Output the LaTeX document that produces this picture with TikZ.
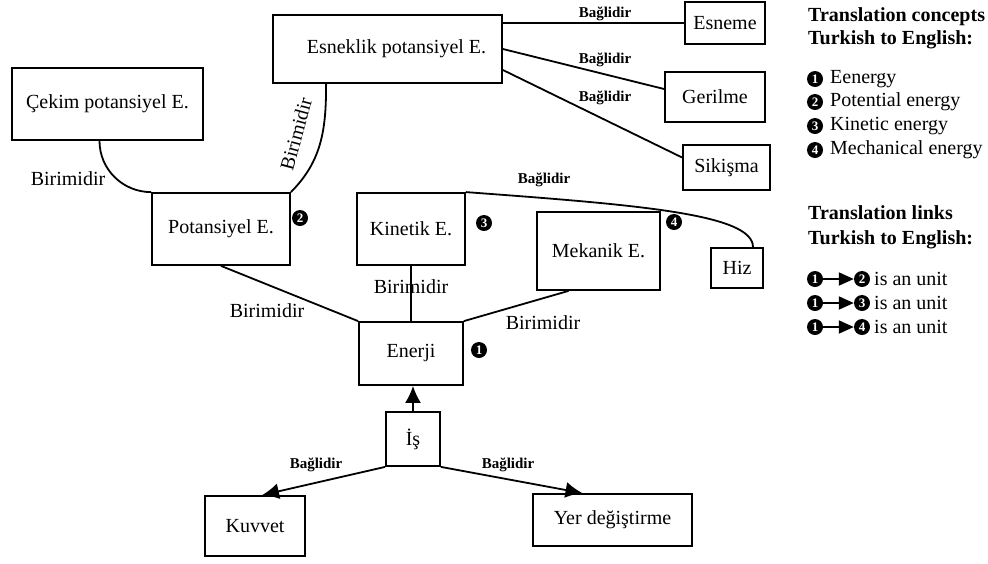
\documentclass[tikz,border=0pt]{standalone}
\usepackage{fontspec}
\setmainfont{Liberation Serif}
\usetikzlibrary{arrows.meta,calc}
\begin{document}
\begin{tikzpicture}[x=1pt,y=-1pt,
  box/.style={draw, line width=1.8pt, inner sep=0pt, align=center,
    font=\fontsize{20}{22}\selectfont},
  link/.style={line width=1.8pt},
  arr/.style={line width=1.8pt, -{Latex[length=17pt,width=16pt]}},
  unitlbl/.style={font=\fontsize{20}{22}\selectfont, inner sep=0pt},
  baglbl/.style={font=\fontsize{15}{17}\selectfont\bfseries, inner sep=0pt},
  badge/.style={circle, fill=black, text=white, inner sep=0pt, minimum size=16pt,
    font=\fontsize{13}{13}\selectfont\bfseries},
  leghead/.style={anchor=west, inner sep=0pt, font=\fontsize{20}{22}\selectfont\bfseries},
  legitem/.style={anchor=west, inner sep=0pt, font=\fontsize{20}{22}\selectfont}]
\useasboundingbox (0,0) rectangle (988,563);

% concept boxes
\node[box, minimum width=229pt, minimum height=68pt] (esnek) at (387.5,49) {\hspace*{18pt}Esneklik potansiyel E.};
\node[box, minimum width=80pt, minimum height=42pt] (esneme) at (725,23) {Esneme};
\node[box, minimum width=100pt, minimum height=50pt] (geril) at (715,97) {Gerilme};
\node[box, minimum width=87pt, minimum height=45pt] (sikis) at (726.5,167.5) {Sikişma};
\node[box, minimum width=191pt, minimum height=72pt] (cekim) at (107.5,104) {Çekim potansiyel E.};
\node[box, minimum width=138pt, minimum height=72pt] (potan) at (221,229) {Potansiyel E.};
\node[box, minimum width=108pt, minimum height=72pt] (kinet) at (411,229) {Kinetik E.};
\node[box, minimum width=123pt, minimum height=78pt] (mekan) at (598.5,251) {Mekanik E.};
\node[box, minimum width=52pt, minimum height=40pt] (hiz) at (737,268) {Hiz};
\node[box, minimum width=104pt, minimum height=63pt] (enerji) at (411,353.5) {Enerji};
\node[box, minimum width=54pt, minimum height=54pt] (is) at (413,439) {İş};
\node[box, minimum width=100pt, minimum height=60pt] (kuvvet) at (255,526) {Kuvvet};
\node[box, minimum width=159pt, minimum height=52pt] (yer) at (612.5,520) {Yer değiştirme};

% number badges
\node[badge] (b2) at (300,218) {2};
\node[badge] (b3) at (484,223) {3};
\node[badge] (b4) at (674,222) {4};
\node[badge] (b1) at (479,350) {1};

% links from the elastic potential energy box
\draw[link] (esnek.east |- esneme.west) -- (esneme.west);
\draw[link] (esnek.east) -- ($(geril.west)+(0,-8)$);
\draw[link] ($(esnek.east)+(0,21)$) -- ($(sikis.west)+(0,-10)$);
\node[baglbl] (l1) at (605,14) {Bağlidir};
\node[baglbl] (l2) at (605,60) {Bağlidir};
\node[baglbl] (l3) at (605,98) {Bağlidir};

% curved unit links into Potansiyel E.
\draw[link] ($(cekim.south)+(-8,0)$) to[out=-90,in=180] (potan.north west);
\node[unitlbl] (u1) at (68,179) {Birimidir};
\draw[link] ($(esnek.south west)+(54,0)$) to[out=-90,in=45] (potan.north east);
\node[unitlbl, rotate=75] (u2) at (296,134) {Birimidir};

% Kinetik E. to Hiz
\draw[link] (kinet.north east) .. controls (640,205) and ($(hiz.north)+(16,-33)$) .. ($(hiz.north)+(16,0)$);
\node[baglbl] (l4) at (544,180) {Bağlidir};

% unit links into Enerji
\draw[link] (potan.south) -- (enerji.north west);
\node[unitlbl] (u3) at (267,311) {Birimidir};
\draw[link] (kinet.south) -- (enerji.north -| kinet.south);
\node[unitlbl] (u4) at (411,287) {Birimidir};
\draw[link] ($(mekan.south)+(-30,0)$) -- (enerji.north east);
\node[unitlbl] (u5) at (543,323) {Birimidir};

% work arrows
\draw[arr] (is.north) -- (is.north |- enerji.south);
\draw[arr] (is.south west) -- ($(kuvvet.north)+(7,0)$);
\draw[arr] (is.south east) -- ($(yer.north)+(-30,0)$);
\node[baglbl] (l5) at (316,465) {Bağlidir};
\node[baglbl] (l6) at (508,465) {Bağlidir};

% legend
\node[leghead] (h1) at (808,17) {Translation concepts};
\node[leghead] (h2) at (808,40) {Turkish to English:};
\node[badge] (c1) at (815,79) {1};
\node[legitem] (t1) at (830,79) {Eenergy};
\node[badge] (c2) at (815,102) {2};
\node[legitem] (t2) at (830,102) {Potential energy};
\node[badge] (c3) at (815,126) {3};
\node[legitem] (t3) at (830,126) {Kinetic energy};
\node[badge] (c4) at (815,150) {4};
\node[legitem] (t4) at (830,150) {Mechanical energy};

\node[leghead] (h3) at (808,213) {Translation links};
\node[leghead] (h4) at (808,240) {Turkish to English:};
\foreach \y/\n in {279/2,303/3,327/4}{
  \node[badge] (p\n) at (815,\y) {1};
  \node[badge] (q\n) at (862,\y) {\n};
  \draw[line width=1.8pt, -{Triangle[length=15pt,width=13pt]}] (p\n) -- (q\n);
  \node[legitem] (r\n) at (874,\y) {is an unit};
}
\end{tikzpicture}
\end{document}
